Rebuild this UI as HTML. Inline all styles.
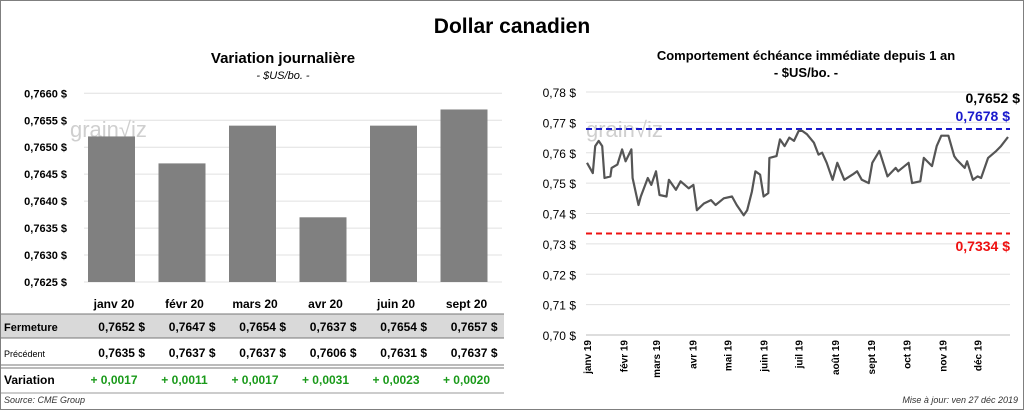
<!DOCTYPE html>
<html><head><meta charset="utf-8"><style>
body{margin:0;background:#fff;font-family:"Liberation Sans",sans-serif}
svg text{font-family:"Liberation Sans",sans-serif}
</style></head><body>
<svg width="1024" height="410" viewBox="0 0 1024 410">
<rect x="0.5" y="0.5" width="1023" height="409" fill="#fff" stroke="#7f7f7f"/>
<text x="512" y="33" text-anchor="middle" font-size="21" font-weight="bold">Dollar canadien</text>
<text x="283" y="63" text-anchor="middle" font-size="15" font-weight="bold">Variation  journalière</text>
<text x="283" y="79" text-anchor="middle" font-size="11" font-style="italic">- $US/bo. -</text>
<text x="806" y="60" text-anchor="middle" font-size="13" font-weight="bold">Comportement échéance immédiate depuis 1 an</text>
<text x="806" y="77" text-anchor="middle" font-size="13" font-weight="bold">- $US/bo. -</text>
<g id="left"></g>
<g id="table"></g>
<g id="right"></g>
<text x="4" y="403" font-size="9" font-style="italic" fill="#333">Source: CME Group</text>
<text x="1018" y="403" text-anchor="end" font-size="9" font-style="italic" fill="#333">Mise à jour: ven 27 déc 2019</text>
</svg>
<script>
const months = ["janv 20","févr 20","mars 20","avr 20","juin 20","sept 20"];
const closeVals = [0.7652,0.7647,0.7654,0.7637,0.7654,0.7657];
const prevVals = [0.7635,0.7637,0.7637,0.7606,0.7631,0.7637];
const variations = ["+ 0,0017","+ 0,0011","+ 0,0017","+ 0,0031","+ 0,0023","+ 0,0020"];
const leftTicks = [0.7625,0.7630,0.7635,0.7640,0.7645,0.7650,0.7655,0.7660];

const lineDays = [0,5,7,10,13,15,20,21,26,30,33,38,39,44,46,52,55,59,62,68,70,76,80,87,91,94,100,106,110,117,124,128,134,137,141,144,148,151,155,156,162,165,169,173,177,181,184,188,194,198,201,205,210,214,220,227,231,235,241,244,250,257,264,266,275,278,285,288,295,299,303,309,314,316,323,325,330,334,337,343,350,354,360];
const lineVals = [0.7567,0.7533,0.7622,0.7639,0.7622,0.7517,0.7522,0.755,0.7561,0.7611,0.7572,0.7611,0.7517,0.7428,0.7456,0.7517,0.7494,0.7539,0.7461,0.7456,0.7511,0.7478,0.7506,0.7483,0.7494,0.7411,0.7433,0.7444,0.7428,0.745,0.7456,0.7428,0.7394,0.7411,0.7472,0.7539,0.7528,0.7456,0.7467,0.7583,0.7589,0.7644,0.7622,0.765,0.7639,0.7672,0.7672,0.7661,0.7633,0.7594,0.76,0.7567,0.7511,0.7567,0.7511,0.7528,0.7539,0.7511,0.75,0.7567,0.7606,0.7522,0.755,0.7539,0.7567,0.75,0.7506,0.7583,0.7556,0.7622,0.7656,0.7656,0.7589,0.7578,0.755,0.7572,0.7511,0.7522,0.7517,0.7583,0.7606,0.7622,0.7652];
const rightTicks = [0.70,0.71,0.72,0.73,0.74,0.75,0.76,0.77,0.78];
const monthLabels = ["janv 19","févr 19","mars 19","avr 19","mai 19","juin 19","juil 19","août 19","sept 19","oct 19","nov 19","déc 19"];
const monthDays = [0,31,59,90,120,151,181,212,243,273,304,334];
const highVal = 0.7678, lowVal = 0.7334, lastVal = 0.7652;

const NS="http://www.w3.org/2000/svg";
function mk(parent,tag,attrs,text){const e=document.createElementNS(NS,tag);for(const k in attrs)e.setAttribute(k,attrs[k]);if(text!==undefined)e.textContent=text;parent.appendChild(e);return e;}
const fmt=(v,d)=>v.toFixed(d).replace('.',',');

// left chart
const L=document.getElementById('left');
const ly=v=>282-(v-0.7625)/(0.7660-0.7625)*(282-93.3);
const bandX=i=>80+i*70.5;
leftTicks.forEach(t=>{
  const g=mk(L,'line',{x1:84,x2:502,y1:ly(t),y2:ly(t),stroke:'#e0e0e0'});
  
  
  const tx=mk(L,'text',{x:67,y:ly(t)+4,'text-anchor':'end','font-size':11,'font-weight':'bold'},fmt(t,4)+' $');
  
  
});
mk(L,'text',{x:70,y:137,'font-size':22,fill:'#cfcfcf'},'grain\u221aiz');
closeVals.forEach((v,i)=>{
  const b=mk(L,'rect',{x:bandX(i)+8,y:ly(v),width:47,height:282-ly(v),fill:'#808080'});
  
  
});

// table
const T=document.getElementById('table');
mk(T,'rect',{x:1,y:314,width:503,height:24,fill:'#d9d9d9'});
mk(T,'line',{x1:1,x2:504,y1:314,y2:314,stroke:'#777'});
mk(T,'line',{x1:1,x2:504,y1:338,y2:338,stroke:'#777'});
mk(T,'line',{x1:1,x2:504,y1:365,y2:365,stroke:'#777'});
mk(T,'line',{x1:1,x2:504,y1:368,y2:368,stroke:'#777'});
mk(T,'line',{x1:1,x2:504,y1:393,y2:393,stroke:'#999'});
const l1=mk(T,'text',{x:4,y:331,'font-size':11,'font-weight':'bold'},'Fermeture');


const l2=mk(T,'text',{x:4,y:357,'font-size':9},'Précédent');


const l3=mk(T,'text',{x:4,y:384,'font-size':12,'font-weight':'bold'},'Variation');


months.forEach((m,i)=>{
  const cx=bandX(i)+31;
  const h=mk(T,'text',{x:cx+3,y:308,'text-anchor':'middle','font-size':12,'font-weight':'bold'},m);
  
  
  const c=mk(T,'text',{x:cx+34,y:331,'text-anchor':'end','font-size':12,'font-weight':'bold'},fmt(closeVals[i],4)+'  $');
  
  
  const p=mk(T,'text',{x:cx+34,y:357,'text-anchor':'end','font-size':12,'font-weight':'bold'},fmt(prevVals[i],4)+'  $');
  
  
  const vv=mk(T,'text',{x:cx+3,y:384,'text-anchor':'middle','font-size':12,'font-weight':'bold',fill:'#1a9a1a'},variations[i]);
  
  
});

// right chart
const R=document.getElementById('right');
const ry=v=>335-(v-0.70)/(0.08)*(335-92);
const rx=d=>587+d/360*421;
rightTicks.forEach(t=>{
  const g=mk(R,'line',{x1:586,x2:1010,y1:ry(t),y2:ry(t),stroke:'#e0e0e0'});
  
  
  const tx=mk(R,'text',{x:576,y:ry(t)+5,'text-anchor':'end','font-size':12},fmt(t,2)+' $');
  
  
});
mk(R,'line',{x1:586,x2:1010,y1:335,y2:335,stroke:'#bbb'});
monthLabels.forEach((m,i)=>{
  const x=rx(monthDays[i]);
  const tx=mk(R,'text',{transform:`translate(${x+4},340) rotate(-90)`,'text-anchor':'end','font-size':10,'font-weight':'bold'},m);
  
  
});
mk(R,'text',{x:586,y:137,'font-size':22,fill:'#cfcfcf'},'grain\u221aiz');
const hi=mk(R,'line',{x1:586,x2:1010,y1:ry(highVal),y2:ry(highVal),stroke:'#1a1acc','stroke-width':2,'stroke-dasharray':'6,4'});


const lo=mk(R,'line',{x1:586,x2:1010,y1:ry(lowVal),y2:ry(lowVal),stroke:'#ee1111','stroke-width':2,'stroke-dasharray':'6,4'});


const pts=lineDays.map((d,i)=>rx(d).toFixed(1)+','+ry(lineVals[i]).toFixed(1)).join(' ');
const pl=mk(R,'polyline',{points:pts,fill:'none',stroke:'#555','stroke-width':2.2,'stroke-linejoin':'round'});


const t1=mk(R,'text',{x:1020,y:103,'text-anchor':'end','font-size':14,'font-weight':'bold'},fmt(lastVal,4)+' $');


const t2=mk(R,'text',{x:1010,y:121,'text-anchor':'end','font-size':14,'font-weight':'bold',fill:'#1a1acc'},fmt(highVal,4)+' $');


const t3=mk(R,'text',{x:1010,y:251,'text-anchor':'end','font-size':14,'font-weight':'bold',fill:'#ee1111'},fmt(lowVal,4)+' $');


</script>
</body></html>
